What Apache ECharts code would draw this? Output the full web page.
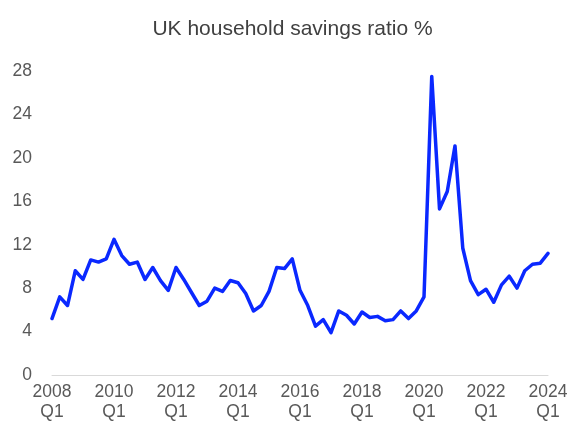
<!DOCTYPE html>
<html>
<head>
<meta charset="utf-8">
<script src="https://cdn.jsdelivr.net/npm/echarts@6/dist/echarts.min.js"></script>
<style>
  html, body {margin: 0; padding: 0; background: #fff;}
  #chart {width: 585px; height: 426px;}
</style>
</head>
<body>
<div id="chart"></div>
<script>
// quarters 2008 Q1 .. 2024 Q1
const years = [2008, 2009, 2010, 2011, 2012, 2013, 2014, 2015, 2016, 2017, 2018, 2019, 2020, 2021, 2022, 2023, 2024]
const quarters = ['Q1', 'Q2', 'Q3', 'Q4']

const savingsRatio = [
  5.2, 7.2, 6.4, 9.6, 8.8, 10.6, 10.4, 10.7,
  12.5, 11.0, 10.2, 10.4, 8.8, 9.9, 8.7, 7.8,
  9.9, 8.8, 7.6, 6.4, 6.8, 8.0, 7.7, 8.7,
  8.5, 7.5, 5.9, 6.4, 7.7, 9.9, 9.8, 10.7,
  7.8, 6.4, 4.5, 5.1, 3.9, 5.9, 5.5, 4.7,
  5.8, 5.3, 5.4, 5.0, 5.1, 5.9, 5.2, 5.9,
  7.2, 27.5, 15.3, 16.9, 21.1, 11.7, 8.7, 7.4,
  7.9, 6.7, 8.3, 9.1, 8.0, 9.6, 10.2, 10.3,
  11.2
]

const categories = []
years.forEach(y => {
  quarters.forEach(q => {
    if (categories.length < savingsRatio.length) categories.push(y + '\n' + q)
  })
})

const font = 'Liberation Sans, Arial, sans-serif'
const chart = echarts.init(document.getElementById('chart'))
chart.setOption({
  animation: false,
  title: {
    text: 'UK household savings ratio %',
    left: 'center',
    top: 14,
    textStyle: {fontFamily: font, fontSize: 21, fontWeight: 'normal', color: '#404040'}
  },
  grid: {left: 52, right: 37, top: 71, bottom: 51},
  xAxis: {
    type: 'category',
    data: categories,
    boundaryGap: false,
    axisLine: {lineStyle: {color: '#d9d9d9', width: 1}},
    axisTick: {show: false},
    axisLabel: {
      interval: 7,
      margin: 7,
      fontFamily: font,
      fontSize: 17.5,
      lineHeight: 20,
      color: '#595959'
    }
  },
  yAxis: {
    type: 'value',
    min: 0,
    max: 28,
    interval: 4,
    splitLine: {show: false},
    axisLine: {show: false},
    axisTick: {show: false},
    axisLabel: {margin: 20, fontFamily: font, fontSize: 17.5, color: '#595959'}
  },
  series: [{
    type: 'line',
    data: savingsRatio,
    showSymbol: false,
    lineStyle: {color: '#0a28ff', width: 3.5, join: 'round', cap: 'round'}
  }]
})
</script>
</body>
</html>
